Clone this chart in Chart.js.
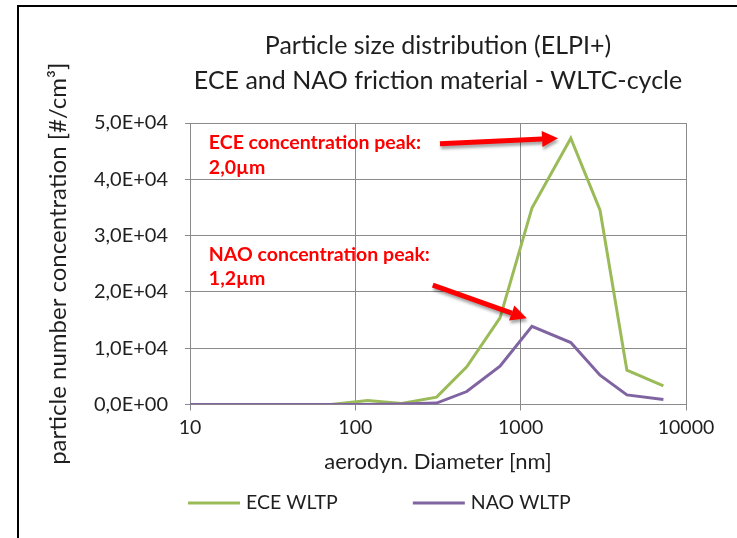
<!DOCTYPE html>
<html>
<head>
<meta charset="utf-8">
<script src="https://cdn.jsdelivr.net/npm/chart.js@4.4.1/dist/chart.umd.min.js"></script>
<style>
  html, body { margin: 0; padding: 0; background: #fff; }
</style>
</head>
<body>
<canvas id="chart" width="737" height="538"></canvas>
<script>
// ELPI+ stage diameters [nm] and concentrations [#/cm3]
const diameters = [10, 21, 40, 71, 119, 190, 310, 472, 750, 1170, 2010, 3020, 4390, 7300]
const eceWltp = [0, 0, 0, 0, 700, 200, 1300, 6700, 15400, 34900, 47300, 34500, 6100, 3300]
const naoWltp = [0, 0, 0, 0, 0, 100, 250, 2300, 6800, 13900, 11000, 5200, 1700, 900]
const xTicks = [10, 100, 1000, 10000]
const yTicks = [0, 10000, 20000, 30000, 40000, 50000]

// red notes, placed in data units
const notes = [
  { text: 'ECE concentration peak:', x: 13, y: 46450 },
  { text: '2,0µm', x: 13, y: 42000 },
  { text: 'NAO concentration peak:', x: 13, y: 26550 },
  { text: '1,2µm', x: 13, y: 22290 }
]
const arrows = [
  { from: [325, 46300], to: [1683, 47300] },
  { from: [294, 21200], to: [1089, 15300] }
]

const FONT = 'Lato, "Open Sans", sans-serif'
const TEXT = '#1f1f1f'
const GRID = '#8a8a8a'

function sci(v) {
  if (v === 0) return '0,0E+00'
  const e = Math.floor(Math.log10(v))
  const m = (v / Math.pow(10, e)).toFixed(1).replace('.', ',')
  return m + 'E+' + String(e).padStart(2, '0')
}

const frame = {
  id: 'frame',
  beforeDraw(chart) {
    const ctx = chart.ctx
    ctx.save()
    ctx.fillStyle = '#fff'
    ctx.fillRect(0, 0, chart.width, chart.height)
    ctx.strokeStyle = '#000'
    ctx.lineWidth = 2
    ctx.beginPath()
    ctx.moveTo(chart.width, 6)
    ctx.lineTo(18, 6)
    ctx.lineTo(18, chart.height)
    ctx.stroke()
    ctx.restore()
  }
}

const titles = {
  id: 'titles',
  afterDraw(chart) {
    const ctx = chart.ctx
    const cx = (chart.chartArea.left + chart.chartArea.right) / 2
    ctx.save()
    ctx.fillStyle = TEXT
    ctx.font = '25px ' + FONT
    ctx.textAlign = 'center'
    ctx.textBaseline = 'middle'
    ctx.fillText('Particle size distribution (ELPI+)', cx, 46)
    ctx.fillText('ECE and NAO friction material - WLTC-cycle', cx, 81)
    ctx.restore()
  }
}

const notesPlugin = {
  id: 'notes',
  afterDatasetsDraw(chart) {
    const { ctx, scales: { x, y } } = chart
    ctx.save()
    ctx.fillStyle = '#ff0000'
    ctx.font = 'bold 19.5px ' + FONT
    ctx.textBaseline = 'middle'
    notes.forEach(n => ctx.fillText(n.text, x.getPixelForValue(n.x), y.getPixelForValue(n.y)))

    ctx.shadowColor = 'rgba(0,0,0,0.35)'
    ctx.shadowBlur = 3
    ctx.shadowOffsetX = 1
    ctx.shadowOffsetY = 3
    ctx.strokeStyle = '#ff0000'
    ctx.lineWidth = 5
    arrows.forEach(a => {
      const x1 = x.getPixelForValue(a.from[0]), y1 = y.getPixelForValue(a.from[1])
      const x2 = x.getPixelForValue(a.to[0]), y2 = y.getPixelForValue(a.to[1])
      const ang = Math.atan2(y2 - y1, x2 - x1)
      const head = 16, half = 8
      const bx = x2 - head * Math.cos(ang), by = y2 - head * Math.sin(ang)
      ctx.beginPath()
      ctx.moveTo(x1, y1)
      ctx.lineTo(bx, by)
      ctx.stroke()
      ctx.beginPath()
      ctx.moveTo(x2, y2)
      ctx.lineTo(bx + half * Math.sin(ang), by - half * Math.cos(ang))
      ctx.lineTo(bx - half * Math.sin(ang), by + half * Math.cos(ang))
      ctx.closePath()
      ctx.fill()
    })
    ctx.restore()
  }
}

const legendPlugin = {
  id: 'legendline',
  afterDraw(chart) {
    const ctx = chart.ctx
    let px = chart.chartArea.left - 2
    const py = 503
    ctx.save()
    ctx.font = '19.5px ' + FONT
    ctx.textBaseline = 'middle'
    chart.data.datasets.forEach(ds => {
      ctx.strokeStyle = ds.borderColor
      ctx.lineWidth = 3
      ctx.beginPath()
      ctx.moveTo(px, py)
      ctx.lineTo(px + 52, py)
      ctx.stroke()
      ctx.fillStyle = TEXT
      ctx.fillText(ds.label, px + 58, py)
      px += 58 + ctx.measureText(ds.label).width + 75
    })
    ctx.restore()
  }
}

new Chart(document.getElementById('chart'), {
  type: 'line',
  data: {
    datasets: [
      {
        label: 'ECE WLTP',
        data: diameters.map((d, i) => ({ x: d, y: eceWltp[i] })),
        borderColor: '#9bbb59',
        borderWidth: 3,
        pointRadius: 0,
        tension: 0,
        order: 1
      },
      {
        label: 'NAO WLTP',
        data: diameters.map((d, i) => ({ x: d, y: naoWltp[i] })),
        borderColor: '#8064a2',
        borderWidth: 3,
        pointRadius: 0,
        tension: 0,
        order: 0
      }
    ]
  },
  options: {
    responsive: false,
    animation: false,
    devicePixelRatio: 1,
    layout: { padding: { top: 123, right: 51, bottom: 58.5, left: 0 } },
    plugins: {
      legend: { display: false },
      tooltip: { enabled: false }
    },
    scales: {
      x: {
        type: 'logarithmic',
        min: 10,
        max: 10000,
        afterBuildTicks: axis => { axis.ticks = xTicks.map(v => ({ value: v })) },
        afterFit: axis => { axis.height = 75 },
        ticks: {
          callback: v => String(v),
          autoSkip: false,
          maxRotation: 0,
          padding: 6,
          color: TEXT,
          font: { family: FONT, size: 19.5 }
        },
        grid: { color: GRID, tickLength: 6 },
        border: { color: GRID },
        title: {
          display: true,
          text: 'aerodyn. Diameter [nm]',
          color: TEXT,
          font: { family: FONT, size: 22 },
          padding: { top: 0, bottom: 4 }
        }
      },
      y: {
        min: 0,
        max: 50000,
        afterBuildTicks: axis => { axis.ticks = yTicks.map(v => ({ value: v })) },
        afterFit: axis => { axis.width = 190 },
        ticks: {
          callback: v => sci(v),
          padding: 17,
          color: TEXT,
          font: { family: FONT, size: 20 }
        },
        grid: { color: GRID, tickLength: 5 },
        border: { color: GRID },
        title: {
          display: true,
          text: 'particle number concentration [#/cm³]',
          color: TEXT,
          font: { family: FONT, size: 24 },
          padding: { top: 44, bottom: 0 }
        }
      }
    }
  },
  plugins: [frame, titles, notesPlugin, legendPlugin]
})
</script>
</body>
</html>
